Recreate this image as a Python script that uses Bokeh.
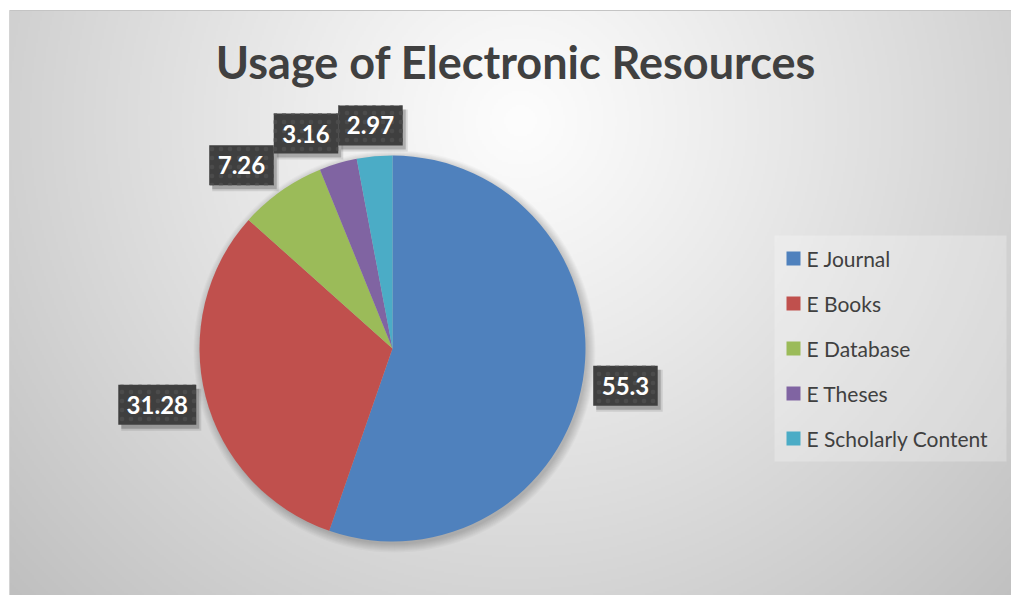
import numpy as np
from bokeh.plotting import figure
from bokeh.models import Range1d
from bokeh.core.properties import value
from bokeh.embed import file_html
from bokeh.resources import INLINE

# ---- data ----
categories = ["E Journal", "E Books", "E Database", "E Theses", "E Scholarly Content"]
usage = [55.3, 31.28, 7.26, 3.16, 2.97]
colors = ["#4F81BD", "#C0504D", "#9BBB59", "#8064A2", "#4BACC6"]
title_text = "Usage of Electronic Resources"

# ---- canvas (1 data unit = 1 screen px, y = -page_y) ----
W, H = 1011, 595
X0, Y0 = 0, 0
p = figure(width=W, height=H, output_backend="svg", toolbar_location=None,
           x_range=Range1d(X0, X0 + W), y_range=Range1d(-(Y0 + H), -Y0),
           x_axis_type=None, y_axis_type=None, min_border=0)
p.grid.visible = False
p.outline_line_color = None
p.background_fill_color = "white"
p.border_fill_color = "white"

# chart area with background gradient
CA_L, CA_T = 9, 10
nx, ny = (W - CA_L) // 2, (H - CA_T) // 2
xs = np.linspace(CA_L, W, nx)
ys = np.linspace(H, CA_T, ny)
XX, YY = np.meshgrid(xs, ys)
d = np.hypot(XX - 520, YY - 120)
v = np.clip(253 - 62 * (d / 700) ** 1.1, 0, 255).astype(np.uint8)
img = np.empty((ny, nx), dtype=np.uint32)
view = img.view(dtype=np.uint8).reshape((ny, nx, 4))
view[..., 0] = v
view[..., 1] = v
view[..., 2] = v
view[..., 3] = 255
p.image_rgba(image=[img], x=CA_L, y=-H, dw=W - CA_L, dh=H - CA_T)
p.segment(x0=[CA_L], y0=[-CA_T], x1=[W], y1=[-CA_T], line_color="#c4c4c4", line_width=1)
p.segment(x0=[CA_L], y0=[-CA_T], x1=[CA_L], y1=[-H], line_color="#d4d4d4", line_width=1)

# ---- pie ----
CX, CY, R = 392, -348, 193
vals = np.array(usage)
total = vals.sum()
cum = np.concatenate([[0], np.cumsum(vals)])
start = np.pi / 2 - 2 * np.pi * cum[:-1] / total
end = np.pi / 2 - 2 * np.pi * cum[1:] / total

# soft shadow
for k in range(9):
    p.circle(x=CX + 2, y=CY - 3, radius=R + k, fill_color="black",
             fill_alpha=0.025, line_color=None)

p.wedge(x=CX, y=CY, radius=R, start_angle=start, end_angle=end,
        direction="clock", fill_color=colors, line_color=None)

# ---- data labels ----
labels = [str(u) for u in usage]
mid = (start + end) / 2
gap = 11
box_h = 40.0
box_w = np.array([18 + 13.5 * sum(ch.isdigit() for ch in s) + 6 for s in labels])
lx = CX + (R + gap) * np.cos(mid) + box_w / 2 * np.cos(mid)
ly = CY + (R + gap) * np.sin(mid) + box_h / 2 * np.sin(mid)
n = len(labels)
for i in range(n - 2, -1, -1):
    j = i + 1
    if abs(lx[i] - lx[j]) < (box_w[i] + box_w[j]) / 2 and abs(ly[i] - ly[j]) < box_h:
        lx[i] = lx[j] - box_w[j] / 2 - box_w[i] / 2

p.rect(x=lx + 4, y=ly - 5, width=box_w + 2, height=box_h + 2,
       fill_color="black", fill_alpha=0.10, line_color=None)
p.rect(x=lx + 3, y=ly - 4, width=box_w, height=box_h,
       fill_color="black", fill_alpha=0.20, line_color=None)
p.rect(x=lx, y=ly, width=box_w, height=box_h, fill_color="#3f3f3f",
       line_color=None, hatch_pattern="dot", hatch_color="#4b4b4b",
       hatch_scale=9, hatch_weight=1)
p.text(x=lx, y=ly, text=labels, text_align="center", text_baseline="middle",
       text_color="white", text_font=value("Lato"), text_font_style="bold",
       text_font_size="24px")

# ---- title ----
p.text(x=[515.5], y=[-61], text=[title_text], text_align="center",
       text_baseline="middle", text_color="#404040",
       text_font=value("Lato"), text_font_style="bold", text_font_size="45px")

# ---- legend ----
leg_left, leg_top, leg_w, leg_h = 774, 235, 232, 226
row_gap = 45
first_mid = 258
p.rect(x=[leg_left + leg_w / 2], y=[-(leg_top + leg_h / 2)], width=leg_w, height=leg_h,
       fill_color="white", fill_alpha=0.25, line_color=None)
rows = np.arange(len(categories))
p.scatter(x=[793] * len(categories), y=-(first_mid + row_gap * rows),
          marker="square", size=14, fill_color=colors, line_color=None)
p.text(x=[806] * len(categories), y=-(first_mid + row_gap * rows), text=categories,
       text_align="left", text_baseline="middle", text_color="#404040",
       text_font=value("Lato"), text_font_size="21px")

open("out.html", "w").write(file_html(p, INLINE))
